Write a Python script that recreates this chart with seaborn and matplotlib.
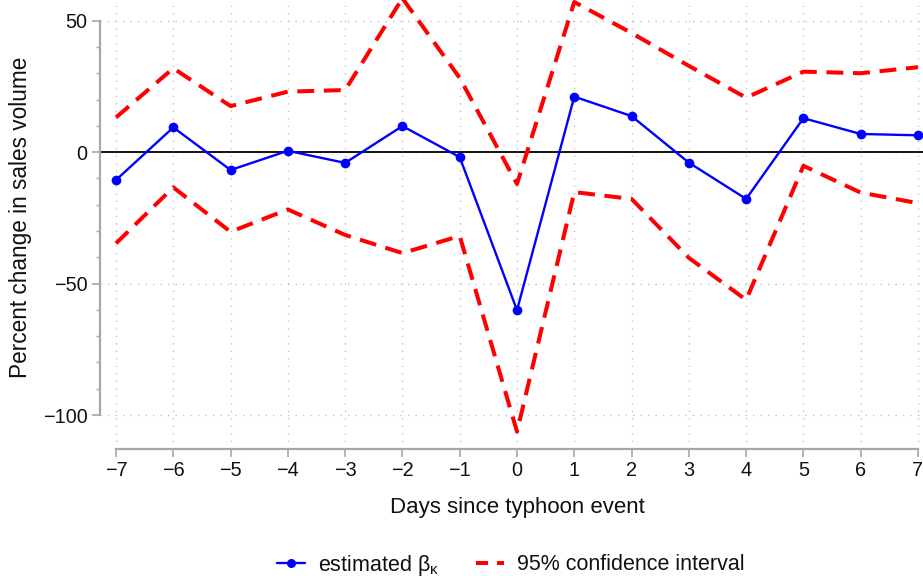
import matplotlib
matplotlib.use("Agg")
import matplotlib.pyplot as plt
import seaborn as sns
import pandas as pd
from matplotlib.ticker import FixedLocator
from matplotlib.lines import Line2D

days = [-7, -6, -5, -4, -3, -2, -1, 0, 1, 2, 3, 4, 5, 6, 7]
beta = [-10.6, 9.4, -6.8, 0.5, -4.1, 9.9, -1.9, -60.1, 21.1, 13.7, -4.0, -17.8, 12.9, 6.9, 6.4]
ci_upper = [13.2, 31.9, 17.5, 23.0, 23.6, 58.5, 28.2, -12.1, 57.1, 45.3, 32.8, 20.7, 30.6, 30.0, 32.3]
ci_lower = [-34.7, -13.4, -30.3, -21.8, -31.5, -38.4, -31.9, -106.3, -15.2, -17.8, -40.2, -56.2, -5.2, -15.4, -19.4]
y_major = [-100, -50, 0, 50]
x_label = "Days since typhoon event"
y_label = "Percent change in sales volume"
legend_labels = ["estimated β$_{κ}$", "95% confidence interval"]

sns.set_theme(style="white")
plt.rcParams["font.family"] = ["Liberation Sans", "DejaVu Sans"]
plt.rcParams["mathtext.fontset"] = "custom"
plt.rcParams["mathtext.rm"] = "Liberation Sans"
plt.rcParams["mathtext.it"] = "Liberation Sans"
plt.rcParams["text.color"] = "#111111"

df = pd.DataFrame({"day": days, "beta": beta, "up": ci_upper, "lo": ci_lower})

fig = plt.figure(figsize=(9.23, 5.76), dpi=100)
ax = fig.add_axes([100 / 923, 127 / 576, 823 / 923, 449 / 576])

grid_kw = dict(color="#bdbdbd", linestyle=(0, (0.9, 4.5)), linewidth=1.0, zorder=0)
for d in days:
    ax.axvline(d, **grid_kw)
for v in y_major:
    ax.axhline(v, **grid_kw)
ax.axhline(0, color="black", linewidth=1.3, zorder=1)

dash = (0, (4.2, 2.4))
sns.lineplot(data=df, x="day", y="up", ax=ax, color="#ff0000", linewidth=2.9,
             linestyle="--", zorder=2)
sns.lineplot(data=df, x="day", y="lo", ax=ax, color="#ff0000", linewidth=2.9,
             linestyle="--", zorder=2)
for ln in ax.get_lines()[-2:]:
    ln.set_linestyle(dash)
sns.lineplot(data=df, x="day", y="beta", ax=ax, color="#0000ff", linewidth=1.7,
             marker="o", markersize=7, markeredgewidth=0, zorder=3)

ax.set_xlim(-7 - 16 / 57.26, 7 + 5 / 57.26)
ax.set_ylim(-112.9, 57.85)

ax.xaxis.set_major_locator(FixedLocator(days))
ax.yaxis.set_major_locator(FixedLocator(y_major))
ax.yaxis.set_minor_locator(FixedLocator(list(range(-100, 51, 10))))

for s in ["top", "right"]:
    ax.spines[s].set_visible(False)
for s in ["left", "bottom"]:
    ax.spines[s].set_color("#a8a8a8")
    ax.spines[s].set_linewidth(1.6)
ax.spines["left"].set_bounds(-100, 50)
ax.spines["bottom"].set_bounds(-7, 7)

ax.tick_params(axis="both", which="major", length=6, width=1.2, color="#a8a8a8",
               labelsize=14.3, labelcolor="#111111", pad=3, direction="out",
               left=True, bottom=True)
ax.tick_params(axis="y", which="minor", length=3, width=1.0, color="#a8a8a8", left=True)

ax.set_xlabel(x_label, fontsize=16, color="#111111")
ax.set_ylabel(y_label, fontsize=16.3, color="#111111")
ax.xaxis.set_label_coords((517 - 100) / 823, (449 - 508) / 449)
ax.xaxis.label.set_va("center")
ax.yaxis.set_label_coords((21 - 100) / 823, (449 - 217) / 449)
ax.yaxis.label.set_va("center")

handles = [
    Line2D([], [], color="#0000ff", linewidth=1.7, marker="o", markersize=6.5, markeredgewidth=0),
    Line2D([], [], color="#ff0000", linewidth=2.9, linestyle=(0, (3.0, 2.2))),
]
leg = fig.legend(handles, legend_labels, loc="center", bbox_to_anchor=(511 / 923, 1 - 565 / 576),
                 ncol=2, frameon=False, fontsize=15.5, handlelength=1.3, columnspacing=1.7,
                 handletextpad=0.6)
for t in leg.get_texts():
    t.set_color("#111111")

fig.savefig("out.png", dpi=100)
